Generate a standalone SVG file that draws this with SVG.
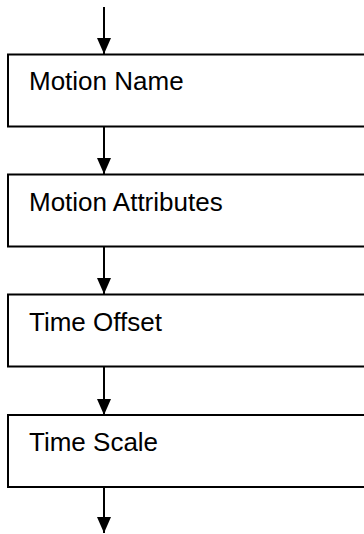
<svg xmlns="http://www.w3.org/2000/svg" width="364" height="534" viewBox="0 0 364 534">
<defs>
<style>
.box{fill:#fff;stroke:#000;stroke-width:2}
.lbl{font-family:"Liberation Sans",Arial,sans-serif;font-size:26px;fill:#000}
.conn{stroke:#000;stroke-width:2;fill:none}
</style>
<marker id="ah" markerUnits="userSpaceOnUse" markerWidth="16" markerHeight="14" viewBox="0 0 16 14" refX="16" refY="7" orient="auto">
<path d="M0,0 L16,7 L0,14 z" fill="#000"/>
</marker>
</defs>
<rect width="364" height="534" fill="#fff"/>
<g id="connectors">
<line class="conn" x1="104" y1="7" x2="104" y2="54" marker-end="url(#ah)"/>
<line class="conn" x1="104" y1="127" x2="104" y2="174" marker-end="url(#ah)"/>
<line class="conn" x1="104" y1="247" x2="104" y2="294" marker-end="url(#ah)"/>
<line class="conn" x1="104" y1="367" x2="104" y2="415" marker-end="url(#ah)"/>
<line class="conn" x1="104" y1="487" x2="104" y2="533" marker-end="url(#ah)"/>
</g>
<g id="node-motion-name">
<rect class="box" x="8" y="54.5" width="400" height="72"/>
<text class="lbl" x="29" y="90">Motion Name</text>
</g>
<g id="node-motion-attributes">
<rect class="box" x="8" y="174.5" width="400" height="72"/>
<text class="lbl" x="29" y="211">Motion Attributes</text>
</g>
<g id="node-time-offset">
<rect class="box" x="8" y="294.5" width="400" height="72"/>
<text class="lbl" x="29" y="331">Time Offset</text>
</g>
<g id="node-time-scale">
<rect class="box" x="8" y="415" width="400" height="72"/>
<text class="lbl" x="29" y="451">Time Scale</text>
</g>
</svg>
